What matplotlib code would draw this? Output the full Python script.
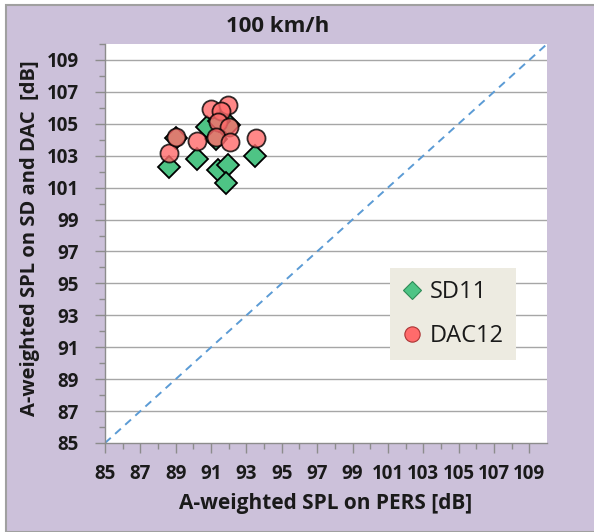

# Scatter of A-weighted SPL measured on SD/DAC vs. on PERS at 100 km/h, with the
# y = x reference line. Saved as out.png.

import matplotlib.pyplot as plt
import numpy as np
from matplotlib.lines import Line2D
from matplotlib.patches import Rectangle

# SD11 (diamonds): SPL on PERS vs. SPL on SD [dB].
sd11_pers = [88.6, 89.0, 90.2, 90.75, 91.3, 91.4, 91.95, 91.85, 92.0, 91.45, 93.5]
sd11_spl = [102.3, 104.1, 102.8, 104.8, 104.05, 102.1, 102.4, 101.3, 104.9, 105.2, 103.0]

# DAC12 (circles): SPL on PERS vs. SPL on DAC [dB].
dac12_pers = [88.6, 89.0, 90.2, 91.0, 91.95, 91.55, 91.4, 92.0, 91.3, 92.05, 93.55]
dac12_spl = [103.2, 104.2, 103.95, 105.9, 106.2, 105.8, 105.1, 104.8, 104.2, 103.85, 104.1]

axis_min = 85
axis_max = 110
tick_values = list(range(85, 110, 2))

FONT = "Open Sans"
BG_COLOR = "#CCC1DA"
GREEN = "#4EC485"
RED = "#FF6B6B"
TEXT_COLOR = "#1A1A1A"


def main() -> None:
    plt.ioff()

    fig = plt.figure(figsize=(5.94, 5.32), dpi=100, facecolor="white")

    # Lavender chart background with a grey frame (left/top edges visible).
    fig.patches.append(
        Rectangle(
            (6 / 594, 0),
            1.0,
            (532 - 5) / 532,
            transform=fig.transFigure,
            facecolor=BG_COLOR,
            edgecolor="#A0A0A0",
            linewidth=1.5,
            zorder=-10,
        )
    )

    ax = fig.add_axes([105 / 594, (532 - 443) / 532, 442 / 594, 399 / 532])
    ax.set_facecolor("white")

    ax.set_xlim(axis_min, axis_max)
    ax.set_ylim(axis_min, axis_max)

    # Horizontal grid lines at the labelled values.
    for val in tick_values[1:]:
        ax.axhline(val, color="#A6A6A6", linewidth=1.0, zorder=1)

    # y = x reference line.
    ax.plot(
        [axis_min, axis_max],
        [axis_min, axis_max],
        linestyle=(0, (4, 3)),
        color="#5B9BD5",
        linewidth=1.4,
        zorder=2,
    )

    ax.plot(
        sd11_pers,
        sd11_spl,
        linestyle="none",
        marker="D",
        markersize=11,
        markerfacecolor=GREEN,
        markeredgecolor="black",
        markeredgewidth=1.3,
        zorder=3,
    )
    ax.plot(
        dac12_pers,
        dac12_spl,
        linestyle="none",
        marker="o",
        markersize=13,
        markerfacecolor=RED,
        markeredgecolor="black",
        markeredgewidth=1.3,
        alpha=0.8,
        zorder=4,
    )

    # Ticks: labelled majors at odd values, short minors in between.
    ax.set_xticks(tick_values)
    ax.set_yticks(tick_values)
    ax.set_xticks(np.arange(86, 110, 2), minor=True)
    ax.set_yticks(np.arange(86, 111, 2), minor=True)
    ax.tick_params(which="major", length=7, width=1, color="#8C8C8C", direction="out")
    ax.tick_params(which="minor", length=4, width=1, color="#8C8C8C", direction="out")
    ax.tick_params(axis="x", which="major", pad=8)
    ax.tick_params(axis="y", which="major", pad=12)
    for label in ax.get_xticklabels() + ax.get_yticklabels():
        label.set_fontfamily(FONT)
        label.set_fontweight("bold")
        label.set_fontsize(13.5)
        label.set_color(TEXT_COLOR)

    for side in ("top", "right"):
        ax.spines[side].set_visible(False)
    for side in ("left", "bottom"):
        ax.spines[side].set_color("#8C8C8C")
        ax.spines[side].set_linewidth(1.0)

    # Axis titles and chart title, placed in figure coordinates.
    fig.text(
        278 / 594,
        1 - 27 / 532,
        "100 km/h",
        ha="center",
        va="center",
        fontsize=16,
        fontweight="bold",
        fontfamily=FONT,
        color=TEXT_COLOR,
    )
    fig.text(
        326 / 594,
        1 - 503 / 532,
        "A-weighted SPL on PERS [dB]",
        ha="center",
        va="center",
        fontsize=15,
        fontweight="bold",
        fontfamily=FONT,
        color=TEXT_COLOR,
    )
    fig.text(
        30 / 594,
        1 - 238 / 532,
        "A-weighted SPL on SD and DAC  [dB]",
        ha="center",
        va="center",
        rotation=90,
        fontsize=14.5,
        fontweight="bold",
        fontfamily=FONT,
        color=TEXT_COLOR,
    )

    # Legend with a beige box.
    handles = [
        Line2D(
            [], [], linestyle="none", marker="D", markersize=9,
            markerfacecolor=GREEN, markeredgecolor="#2E8B57", markeredgewidth=0.8,
        ),
        Line2D(
            [], [], linestyle="none", marker="o", markersize=11,
            markerfacecolor=RED, markeredgecolor="#A33", markeredgewidth=0.8,
        ),
    ]
    legend = ax.legend(
        handles,
        ["SD11", "DAC12"],
        loc="upper left",
        bbox_to_anchor=((390 - 105) / 442, (443 - 268) / 399),
        borderaxespad=0,
        frameon=True,
        fancybox=False,
        facecolor="#EDEBE1",
        edgecolor="none",
        framealpha=1,
        handlelength=0.9,
        handletextpad=0.3,
        labelspacing=0.85,
        borderpad=0.5,
        prop={"family": FONT, "size": 17},
    )
    legend.set_zorder(5)
    for text in legend.get_texts():
        text.set_color(TEXT_COLOR)

    fig.savefig("out.png", dpi=100, facecolor=fig.get_facecolor())


if __name__ == "__main__":
    main()
